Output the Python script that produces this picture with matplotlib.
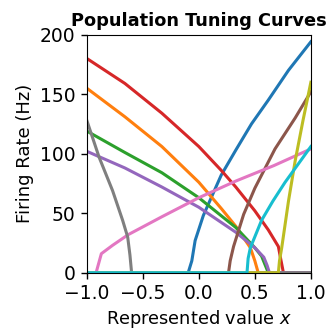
import matplotlib
matplotlib.use("Agg")
import matplotlib.pyplot as plt

# tuning curves: (x points, rate in Hz) per neuron, tab10 order
blue_x = [-1.0, -0.095, -0.0625, -0.033, 0.04, 0.2, 0.33, 0.47, 0.62, 0.8, 1.0]
blue_y = [0, 0, 10, 27, 48, 82, 103, 125, 145, 170, 194]
orange_x = [-1.0, -0.66, -0.33, 0.0, 0.2, 0.33, 0.46, 0.5, 0.53, 1.0]
orange_y = [155, 131, 106, 76, 54, 39, 21, 10, 0, 0]
green_x = [-1.0, -0.66, -0.33, 0.0, 0.33, 0.5, 0.56, 0.59, 0.62, 1.0]
green_y = [119, 101, 84, 63, 38, 21, 14, 7, 0, 0]
red_x = [-1.0, -0.66, -0.33, 0.0, 0.2, 0.33, 0.5, 0.62, 0.71, 0.73, 0.755, 1.0]
red_y = [180, 159, 134, 106, 86, 72, 52, 36, 22, 12, 0, 0]
purple_x = [-1.0, -0.66, -0.33, 0.0, 0.33, 0.5, 0.58, 0.61, 0.63, 1.0]
purple_y = [102, 88, 72, 55, 34, 21, 13, 6, 0, 0]
brown_x = [-1.0, 0.265, 0.28, 0.31, 0.4, 0.5, 0.68, 0.86, 1.0]
brown_y = [0, 0, 10, 22, 49, 71, 104, 130, 152]
pink_x = [-1.0, -0.917, -0.87, -0.77, -0.63, -0.33, 0.0, 0.33, 0.67, 1.0]
pink_y = [0, 0, 16, 23, 32, 47, 63, 77, 90, 104]
gray_x = [-1.0, -0.89, -0.77, -0.68, -0.635, -0.615, -0.6, 1.0]
gray_y = [128, 97, 69, 44, 30, 15, 0, 0]
olive_x = [-1.0, 0.71, 0.72, 0.74, 0.8, 0.86, 0.93, 1.0]
olive_y = [0, 0, 10, 21, 60, 94, 128, 160]
cyan_x = [-1.0, 0.43, 0.44, 0.46, 0.56, 0.66, 0.77, 1.0]
cyan_y = [0, 0, 12, 21, 44, 60, 76, 106]

curves = [
    (blue_x, blue_y), (orange_x, orange_y), (green_x, green_y), (red_x, red_y),
    (purple_x, purple_y), (brown_x, brown_y), (pink_x, pink_y), (gray_x, gray_y),
    (olive_x, olive_y), (cyan_x, cyan_y),
]
colors = ["tab:blue", "tab:orange", "tab:green", "tab:red", "tab:purple",
          "tab:brown", "tab:pink", "tab:gray", "tab:olive", "tab:cyan"]

fig = plt.figure(figsize=(3.3, 3.33), dpi=100)
ax = fig.add_axes([0.263, 0.181, 0.679, 0.715])
for (xs, ys), c in zip(curves, colors):
    ax.plot(xs, ys, color=c, lw=2.2)

ax.set_xlim(-1, 1)
ax.set_ylim(0, 200)
ax.set_xticks([-1.0, -0.5, 0.0, 0.5, 1.0])
ax.set_yticks([0, 50, 100, 150, 200])
ax.tick_params(labelsize=13.5, length=4.5, width=1)
ax.set_title("Population Tuning Curves", fontsize=12.8, fontweight="bold", pad=6)
ax.set_xlabel("Represented value $x$", fontsize=12.8, labelpad=4)
ax.set_ylabel("Firing Rate (Hz)", fontsize=13)

fig.savefig("out.png", dpi=100)
